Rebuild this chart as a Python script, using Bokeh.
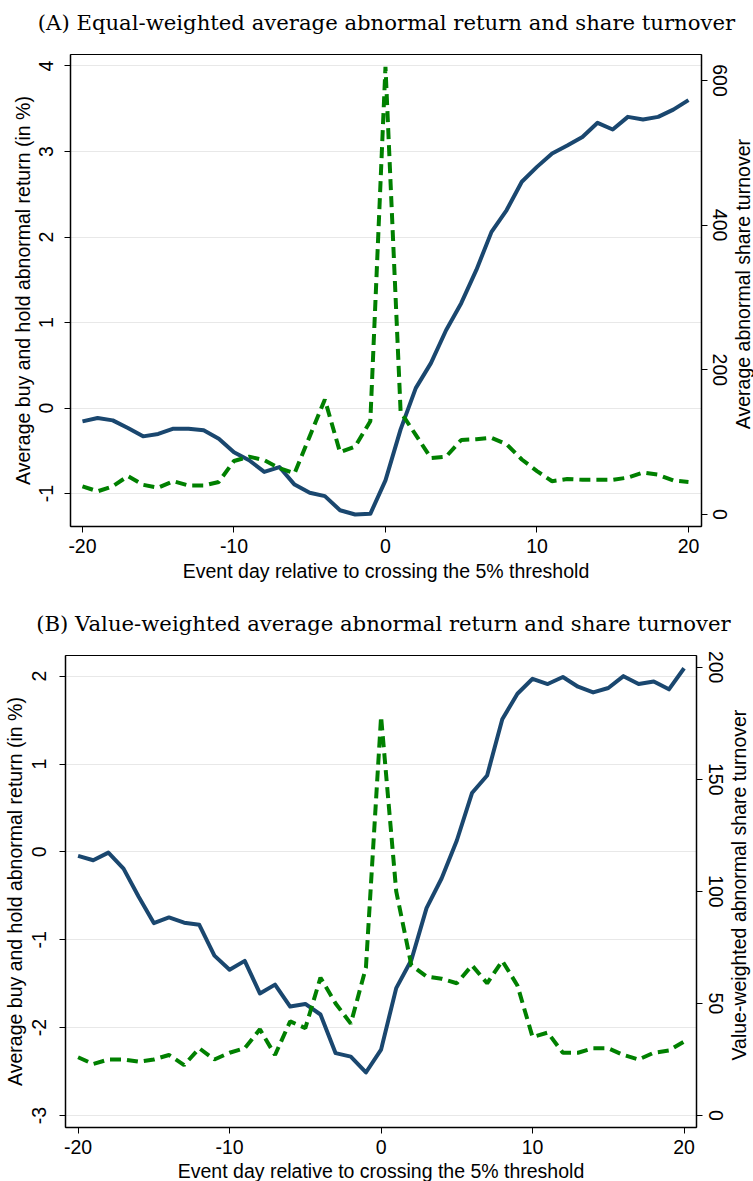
from bokeh.plotting import figure
from bokeh.models import Range1d, LinearAxis, FixedTicker
from bokeh.layouts import column, row
from bokeh.core.properties import value
from bokeh.embed import file_html
from bokeh.resources import INLINE

# Event window (days relative to crossing the 5% threshold)
days = list(range(-20, 21))

# Panel A: equal-weighted averages
ew_bhar = [-0.156, -0.117, -0.144, -0.233, -0.331, -0.303, -0.241, -0.241, -0.26, -0.358,
           -0.517, -0.61, -0.747, -0.69, -0.895, -0.99, -1.03, -1.195, -1.245, -1.237,
           -0.845,
           -0.25, 0.233, 0.525, 0.91, 1.226, 1.615, 2.06, 2.315, 2.646, 2.82,
           2.977, 3.07, 3.17, 3.335, 3.257, 3.405, 3.374, 3.405, 3.49, 3.6]
ew_turnover = [39, 32, 39, 53, 41, 37, 46, 40, 40, 45,
               74, 80, 75, 64, 57, 108, 159, 86, 94, 129,
               619,
               142, 110, 78, 80, 103, 104, 106, 97, 76, 60,
               46, 49, 48, 48, 48, 51, 58, 55, 47, 45]

# Panel B: value-weighted averages
vw_bhar = [-0.045, -0.095, -0.008, -0.19, -0.51, -0.81, -0.745, -0.805, -0.83, -1.18,
           -1.34, -1.24, -1.61, -1.51, -1.76, -1.73, -1.85, -2.29, -2.33, -2.51,
           -2.25,
           -1.55, -1.23, -0.64, -0.30, 0.13, 0.67, 0.87, 1.51, 1.80, 1.97,
           1.91, 1.99, 1.88, 1.815, 1.865, 2.0, 1.91, 1.94, 1.85, 2.09]
vw_turnover = [26, 23, 25, 25, 24, 25, 27, 22.5, 30, 25,
               28, 30, 38.5, 27, 42, 39, 61.5, 50, 41, 66,
               178,
               100, 67, 62, 61, 59, 67, 59, 69, 58, 35,
               37, 28, 28, 30, 30, 27, 25, 28, 29, 33]

x_ticks = [-20, -10, 0, 10, 20]
ew_left_ticks = [-1, 0, 1, 2, 3, 4]
ew_right_ticks = [0, 200, 400, 600]
vw_left_ticks = [-3, -2, -1, 0, 1, 2]
vw_right_ticks = [0, 50, 100, 150, 200]

title_a = "(A) Equal-weighted average abnormal return and share turnover"
title_b = "(B) Value-weighted average abnormal return and share turnover"
x_label = "Event day relative to crossing the 5% threshold"
left_label = "Average buy and hold abnormal return (in %)"
right_label_a = "Average abnormal share turnover"
right_label_b = "Value-weighted abnormal share turnover"

SANS = "Liberation Sans"
SERIF = "DejaVu Serif"
BLUE = "#1a476f"
GREEN = "#008000"
FS = "19.5px"
W = 753
QUARTER_TURN = 1.5707963


def hyphen_labels(ticks):
    # plain hyphen-minus for negative tick values
    return {t: ("-%d" % abs(t)) for t in ticks if t < 0}


def style_axis(ax):
    ax.axis_line_color = "black"
    ax.axis_line_width = 1.5
    ax.major_tick_line_color = "black"
    ax.major_tick_line_width = 1
    ax.major_tick_out = 6
    ax.major_tick_in = 0
    ax.minor_tick_line_color = None
    ax.major_label_text_font = SANS
    ax.major_label_text_font_size = FS
    ax.major_label_text_color = "black"
    ax.axis_label_text_font = SANS
    ax.axis_label_text_font_size = FS
    ax.axis_label_text_font_style = "normal"
    ax.axis_label_text_color = "black"


def text_strip(width, height, x, y, text, font, size, angle=0.0):
    """A bare pixel-scaled strip holding one piece of text (titles and outer axis titles)."""
    s = figure(width=width, height=height, output_backend="svg", toolbar_location=None,
               x_range=Range1d(0, width), y_range=Range1d(0, height),
               x_axis_location=None, y_axis_location=None, title=None,
               min_border=0, min_border_left=0, min_border_right=0,
               min_border_top=0, min_border_bottom=0)
    s.grid.visible = False
    s.outline_line_color = None
    s.background_fill_color = "white"
    s.border_fill_color = "white"
    s.text(x=[x], y=[y], text=[text], angle=angle, text_font=value(font),
           text_font_size=size, text_color="black", text_align="center",
           text_baseline="middle")
    return s


def panel(bhar, turnover, xr, yl, yr, lticks, rticks, width, height,
          b_left, b_right, b_top, b_bottom, left_standoff, label_standoff, right_standoff):
    p = figure(width=width, height=height, output_backend="svg", toolbar_location=None,
               title=None, x_range=Range1d(*xr), y_range=Range1d(*yl),
               min_border_left=b_left, min_border_right=b_right,
               min_border_top=b_top, min_border_bottom=b_bottom)
    p.background_fill_color = "white"
    p.border_fill_color = "white"
    p.outline_line_color = "black"
    p.outline_line_width = 1

    p.extra_y_ranges = {"turn": Range1d(*yr)}

    xa = p.xaxis[0]
    xa.ticker = FixedTicker(ticks=x_ticks)
    xa.major_label_overrides = hyphen_labels(x_ticks)
    style_axis(xa)
    xa.major_label_standoff = 6

    ya = p.yaxis[0]
    ya.ticker = FixedTicker(ticks=lticks)
    ya.major_label_overrides = hyphen_labels(lticks)
    ya.axis_label = left_label
    style_axis(ya)
    ya.major_label_orientation = "vertical"
    ya.major_label_standoff = left_standoff
    ya.axis_label_standoff = label_standoff

    ra = LinearAxis(y_range_name="turn", ticker=FixedTicker(ticks=rticks))
    style_axis(ra)
    ra.major_label_orientation = "vertical"
    ra.major_label_standoff = right_standoff
    p.add_layout(ra, "right")

    p.xgrid.grid_line_color = None
    p.ygrid.ticker = FixedTicker(ticks=lticks)
    p.ygrid.grid_line_color = "#e8e8e8"
    p.ygrid.grid_line_width = 1.2

    p.line(days, bhar, line_color=BLUE, line_width=4, line_join="round")
    p.line(days, turnover, y_range_name="turn", line_color=GREEN, line_width=4,
           line_dash="11 6")
    return p


# ---- Panel A ----
ta = text_strip(W, 40, 386, 18.3, title_a, SERIF, "21.2px")
pa = panel(ew_bhar, ew_turnover, (-20.79, 20.86), (-1.385, 4.134), (-16.6, 635.9),
           ew_left_ticks, ew_right_ticks, 731, 515, 70, 30, 14, 28, 11, 3, 5)
ra_txt = text_strip(22, 515, 11, 264.5, right_label_a, SANS, FS, angle=QUARTER_TURN)
xa_txt = text_strip(W, 35, 385.5, 20, x_label, SANS, FS)

# ---- Panel B ----
tb = text_strip(W, 50, 383, 17.3, title_b, SERIF, "21.2px")
pb = panel(vw_bhar, vw_turnover, (-20.83, 20.82), (-3.136, 2.235), (-5.34, 205.2),
           vw_left_ticks, vw_right_ticks, 727, 516, 65, 31, 15, 28, 13, 4, 6)
rb_txt = text_strip(26, 516, 11, 265, right_label_b, SANS, FS, angle=QUARTER_TURN)
xb_txt = text_strip(W, 25, 380.5, 11, x_label, SANS, FS)

layout = column(ta, row(pa, ra_txt, spacing=0), xa_txt,
                tb, row(pb, rb_txt, spacing=0), xb_txt, spacing=0)
open("out.html", "w").write(file_html(layout, INLINE))
